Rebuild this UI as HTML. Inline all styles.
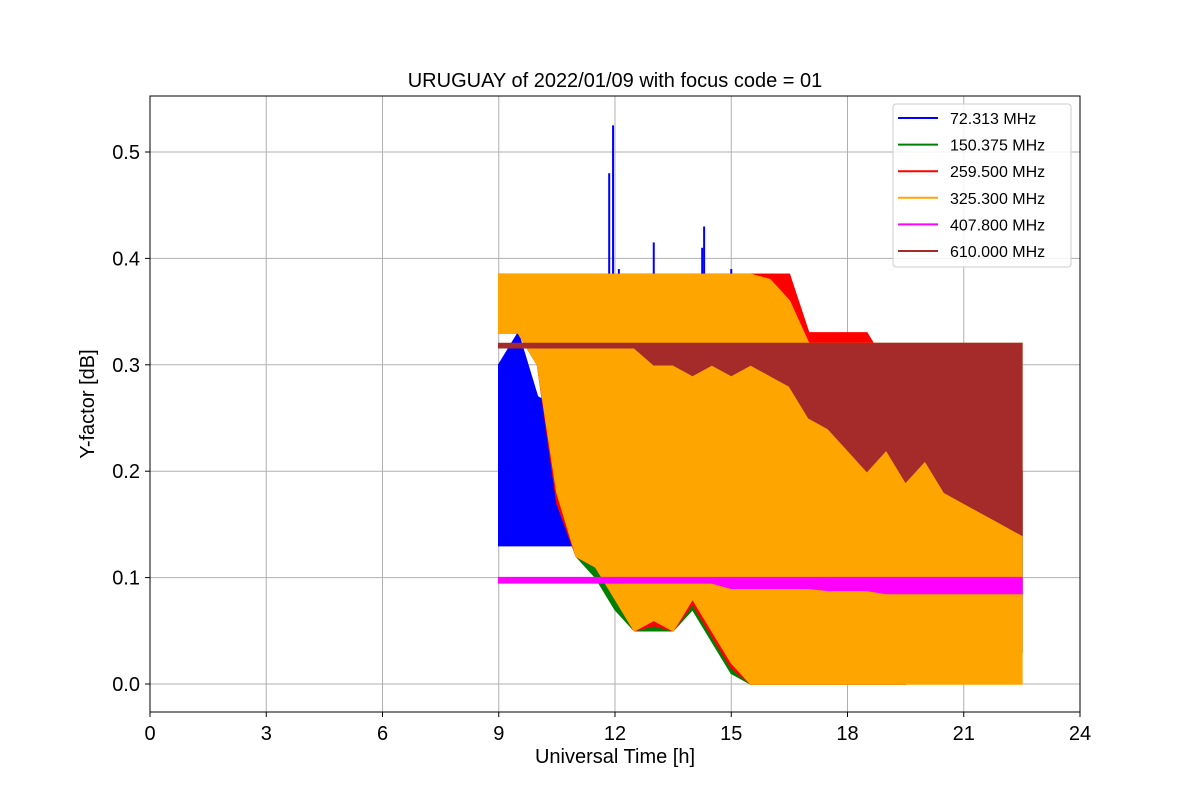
<!DOCTYPE html>
<html><head><meta charset="utf-8"><style>
body{margin:0;background:#fff}
svg text{font-family:"Liberation Sans","DejaVu Sans",sans-serif}
</style></head><body>
<svg id="chart" width="1200" height="800" xmlns="http://www.w3.org/2000/svg">
<rect width="1200" height="800" fill="#fff"/>
<g id="grid"></g>
<g id="series"></g>
<rect x="150" y="96" width="930" height="616" fill="none" stroke="#000" stroke-width="1"/>
<g id="axes"></g>
<text x="615" y="87" font-size="20" text-anchor="middle">URUGUAY of 2022/01/09 with focus code = 01</text>
<text x="615" y="763" font-size="20" text-anchor="middle">Universal Time [h]</text>
<text x="94" y="404" font-size="20" text-anchor="middle" transform="rotate(-90 94 404)">Y-factor [dB]</text>
<g id="legend"></g>
</svg>
<script>
const times=[9,9.5,10,10.5,11,11.5,12,12.5,13,13.5,14,14.5,15,15.5,16,16.5,17,17.5,18,18.5,19,19.5,20,20.5,21,21.5,22,22.5];
const labels=["  72.313 MHz","150.375 MHz","259.500 MHz","325.300 MHz","407.800 MHz","610.000 MHz"];
const colors=["blue","green","red","orange","magenta","brown"];
const blueHi=[0.30,0.33,0.27,0.26,0.30,0.20,0.22,0.20,0.16,0.15,0.16,0.14,0.13,0.13,0.14,0.14,0.15,0.15,0.2,0.2,0.22,0.24,0.25,0.25,0.25,0.24,0.22,0.2];
const blueLo=[0.13,0.13,0.13,0.13,0.13,0.13,0.13,0.13,0.13,0.13,0.13,0.13,0.12,0.1,0.1,0.1,0.1,0.1,0.1,0.1,0.08,0.08,0.07,0.07,0.06,0.05,0.06,0.08];
const greenHi=[0.385,0.385,0.385,0.385,0.385,0.385,0.385,0.385,0.385,0.385,0.385,0.385,0.385,0.385,0.385,0.385,0.32,0.32,0.32,0.3,0.28,0.27,0.25,0.25,0.22,0.2,0.2,0.2];
const greenLo=[0.33,0.33,0.30,0.18,0.12,0.1,0.07,0.05,0.05,0.05,0.07,0.04,0.01,0.0,0.0,0.0,0.0,0.0,0.0,0.0,0.0,0.0,0.02,0.02,0.03,0.03,0.03,0.03];
const redHi=[0.385,0.385,0.385,0.385,0.385,0.385,0.385,0.385,0.385,0.385,0.385,0.385,0.385,0.385,0.385,0.385,0.33,0.33,0.33,0.33,0.3,0.28,0.26,0.25,0.24,0.22,0.2,0.2];
const redLo=[0.33,0.33,0.30,0.17,0.12,0.11,0.08,0.05,0.055,0.05,0.075,0.045,0.015,0.0,0.0,0.0,0.0,0.0,0.0,0.0,0.0,0.0,0.02,0.02,0.03,0.03,0.03,0.03];
const orangeHi=[0.385,0.385,0.385,0.385,0.385,0.385,0.385,0.385,0.385,0.385,0.385,0.385,0.385,0.385,0.38,0.36,0.32,0.32,0.32,0.32,0.32,0.32,0.32,0.32,0.32,0.32,0.32,0.32];
const orangeLo=[0.33,0.33,0.30,0.18,0.12,0.11,0.08,0.05,0.06,0.05,0.08,0.05,0.02,0.0,0.0,0.0,0.0,0.0,0.0,0.0,0.0,0.0,0.0,0.0,0.0,0.0,0.0,0.0];
const magentaHi=[0.1,0.1,0.1,0.1,0.1,0.1,0.1,0.1,0.1,0.1,0.1,0.1,0.1,0.1,0.1,0.1,0.1,0.1,0.1,0.1,0.1,0.1,0.1,0.1,0.1,0.1,0.1,0.1];
const magentaLo=[0.095,0.095,0.095,0.095,0.095,0.095,0.095,0.095,0.095,0.095,0.095,0.095,0.09,0.09,0.09,0.09,0.09,0.088,0.088,0.088,0.085,0.085,0.085,0.085,0.085,0.085,0.085,0.085];
const brownHi=[0.32,0.32,0.32,0.32,0.32,0.32,0.32,0.32,0.32,0.32,0.32,0.32,0.32,0.32,0.32,0.32,0.32,0.32,0.32,0.32,0.32,0.32,0.32,0.32,0.32,0.32,0.32,0.32];
const brownLo=[0.316,0.316,0.316,0.316,0.316,0.316,0.316,0.316,0.30,0.30,0.29,0.30,0.29,0.30,0.29,0.28,0.25,0.24,0.22,0.20,0.22,0.19,0.21,0.18,0.17,0.16,0.15,0.14];
const blueSpikeT=[11.85,11.95,12.1,13.0,14.25,14.3,15.0];
const blueSpikeV=[0.48,0.525,0.39,0.415,0.41,0.43,0.39];
const xTicks=[0,3,6,9,12,15,18,21,24];
const yTicks=[0.0,0.1,0.2,0.3,0.4,0.5];
const yTickLabels=["0.0","0.1","0.2","0.3","0.4","0.5"];

const NS="http://www.w3.org/2000/svg";
const X=t=>150+t*930/24;
const Y=v=>684-v*1064;
function mk(tag,attrs,parent){const e=document.createElementNS(NS,tag);for(const k in attrs)e.setAttribute(k,attrs[k]);parent.appendChild(e);return e;}
const grid=document.getElementById('grid'),axes=document.getElementById('axes'),ser=document.getElementById('series'),leg=document.getElementById('legend');
xTicks.forEach(t=>{
 const l=mk('line',{x1:X(t),x2:X(t),y1:96,y2:712,stroke:'#b0b0b0','stroke-width':1},grid);
 
 
 mk('line',{x1:X(t),x2:X(t),y1:712,y2:717,stroke:'#000'},axes);
 const tx=mk('text',{x:X(t),y:740,'font-size':20,'text-anchor':'middle'},axes);tx.textContent=t;
 
 
});
yTicks.forEach((v,i)=>{
 const l=mk('line',{x1:150,x2:1080,y1:Y(v),y2:Y(v),stroke:'#b0b0b0','stroke-width':1},grid);
 
 
 mk('line',{x1:145,x2:150,y1:Y(v),y2:Y(v),stroke:'#000'},axes);
 const tx=mk('text',{x:140,y:Y(v)+7,'font-size':20,'text-anchor':'end'},axes);tx.textContent=yTickLabels[i];
 
 
});
const bands=[[blueLo,blueHi],[greenLo,greenHi],[redLo,redHi],[orangeLo,orangeHi],[magentaLo,magentaHi],[brownLo,brownHi]];
bands.forEach((b,i)=>{
 let pts=times.map((t,j)=>X(t)+','+Y(b[1][j]));
 pts=pts.concat(times.map((t,j)=>X(t)+','+Y(b[0][j])).reverse());
 const p=mk('polygon',{points:pts.join(' '),fill:colors[i],stroke:colors[i],'stroke-width':1.5},ser);
 
 
 if(i===0){
  blueSpikeT.forEach((t,k)=>{
   const s=mk('line',{x1:X(t),x2:X(t),y1:Y(0.38),y2:Y(blueSpikeV[k]),stroke:'blue','stroke-width':2},ser);
   
   
  });
 }
});
mk('rect',{x:893,y:104,width:178,height:163,rx:3,fill:'#fff','fill-opacity':0.85,stroke:'#ccc'},leg);
labels.forEach((lab,i)=>{
 const y=118+i*26.6;
 mk('line',{x1:898,x2:938,y1:y,y2:y,stroke:colors[i],'stroke-width':2},leg);
 const tx=mk('text',{x:950,y:y+6,'font-size':16,'xml:space':'preserve'},leg);tx.textContent=lab;
 
 
});
</script>
</body></html>
